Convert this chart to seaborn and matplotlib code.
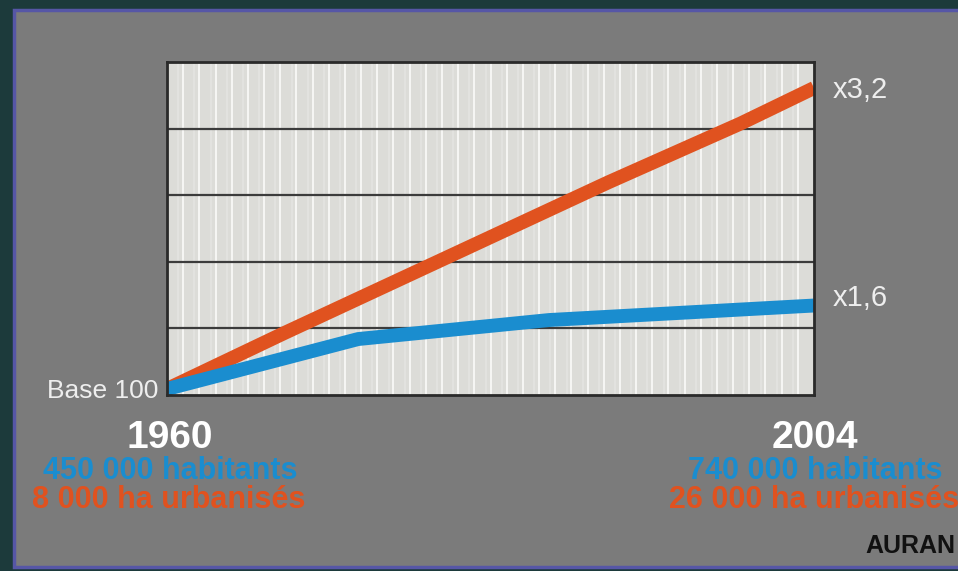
import matplotlib
matplotlib.use("Agg")
import matplotlib.pyplot as plt
from matplotlib.patches import Rectangle
import numpy as np
import pandas as pd
import seaborn as sns

# index values, base 100 in 1960
urban_years = [1960, 1968, 1975, 1982, 1990, 1999, 2004]
urban_index = [100, 141, 176, 211, 251, 294, 320]
pop_years = [1960, 1973, 1986, 2004]
pop_index = [100, 136.5, 150.4, 161]

start_year, end_year = "1960", "2004"
pop_labels = ["450 000 habitants", "740 000 habitants"]
urban_labels = ["8 000 ha urbanisés", "26 000 ha urbanisés"]
end_labels = ["x3,2", "x1,6"]

ORANGE = "#e0521f"
BLUE = "#1a8dcf"
PANEL = "#7b7b7b"

sns.set_style("white")
plt.rcParams["font.family"] = ["Liberation Sans", "DejaVu Sans"]

W, H = 958, 571
fig = plt.figure(figsize=(W / 100, H / 100), dpi=100, facecolor="#1c3a3b")


def fx(x):
    return x / W


def fy(y):
    return (H - y) / H


# grey panel with purple border
fig.patches.append(Rectangle((fx(14), fy(567)), 1.0, fy(10) - fy(567),
                             transform=fig.transFigure, facecolor=PANEL,
                             edgecolor="#5656a6", linewidth=2.5, zorder=-5))

ax = fig.add_axes([fx(167), fy(395), fx(814) - fx(167), fy(62) - fy(395)])
ax.set_zorder(2)
ax.set_facecolor("#dcdcd8")
ax.set_xlim(1960, 2004)
ax.set_ylim(95.6, 339)

# vertical stripes
vx = np.linspace(1960, 2004, 41)[1:-1]
step = vx[1] - vx[0]
for v in vx:
    ax.axvline(v - 0.3 * step, color="#e2e2df", lw=1.5, zorder=1)
    ax.axvline(v, color="#f8f8f6", lw=1.3, zorder=1)
# horizontal grid
for h in np.linspace(95.6, 339, 6)[1:-1]:
    ax.axhline(h, color="#3c3c3c", lw=1.6, zorder=2)

urban = pd.DataFrame({"year": urban_years, "index": urban_index})
pop = pd.DataFrame({"year": pop_years, "index": pop_index})
sns.lineplot(data=urban, x="year", y="index", ax=ax, color=ORANGE, lw=10,
             solid_capstyle="butt", solid_joinstyle="round", zorder=3)
sns.lineplot(data=pop, x="year", y="index", ax=ax, color=BLUE, lw=10,
             solid_capstyle="butt", solid_joinstyle="round", zorder=4)

ax.set_xticks([])
ax.set_yticks([])
ax.set_xlabel("")
ax.set_ylabel("")
for s in ax.spines.values():
    s.set_color("#2a2a2a")
    s.set_linewidth(2)
    s.set_zorder(5)

# labels
fig.text(fx(158), fy(391), "Base 100", ha="right", va="center",
         fontsize=19, color="#eeeeee")
fig.text(fx(833), fy(90), end_labels[0], ha="left", va="center",
         fontsize=21, color="#eeeeee")
fig.text(fx(833), fy(298), end_labels[1], ha="left", va="center",
         fontsize=21, color="#eeeeee")

for cx, yr, p, u in [(170, start_year, pop_labels[0], urban_labels[0]),
                     (815, end_year, pop_labels[1], urban_labels[1])]:
    fig.text(fx(cx), fy(438), yr, ha="center", va="center", fontsize=28,
             fontweight="bold", color="white")
    fig.text(fx(cx), fy(471), p, ha="center", va="center", fontsize=22,
             fontweight="bold", color=BLUE)
    fig.text(fx(cx - 1), fy(500), u, ha="center", va="center", fontsize=22,
             fontweight="bold", color=ORANGE)

fig.text(fx(865), fy(546), "AURAN", ha="left", va="center", fontsize=18,
         fontweight="bold", color="#111111")

fig.savefig("out.png", dpi=100, facecolor=fig.get_facecolor())
